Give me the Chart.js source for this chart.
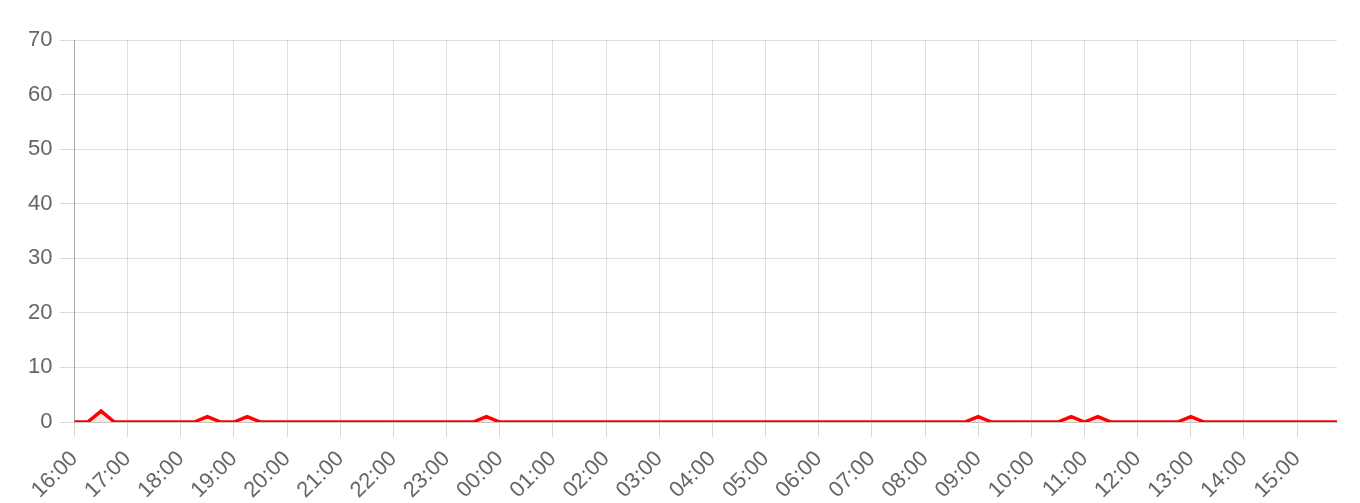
<!DOCTYPE html>
<html>
<head>
<meta charset="utf-8">
<script src="https://cdn.jsdelivr.net/npm/chart.js@4/dist/chart.umd.min.js"></script>
<style>
  html, body { margin: 0; padding: 0; background: #fff; }
  #wrap { position: relative; width: 1360px; height: 503px; }
</style>
</head>
<body>
<div id="wrap"><canvas id="chart"></canvas></div>
<script>
// ── Data (15-minute samples, 16:00 → 15:45) ─────

var times = [
  "16:00", "16:15", "16:30", "16:45", "17:00", "17:15", "17:30", "17:45",
  "18:00", "18:15", "18:30", "18:45", "19:00", "19:15", "19:30", "19:45",
  "20:00", "20:15", "20:30", "20:45", "21:00", "21:15", "21:30", "21:45",
  "22:00", "22:15", "22:30", "22:45", "23:00", "23:15", "23:30", "23:45",
  "00:00", "00:15", "00:30", "00:45", "01:00", "01:15", "01:30", "01:45",
  "02:00", "02:15", "02:30", "02:45", "03:00", "03:15", "03:30", "03:45",
  "04:00", "04:15", "04:30", "04:45", "05:00", "05:15", "05:30", "05:45",
  "06:00", "06:15", "06:30", "06:45", "07:00", "07:15", "07:30", "07:45",
  "08:00", "08:15", "08:30", "08:45", "09:00", "09:15", "09:30", "09:45",
  "10:00", "10:15", "10:30", "10:45", "11:00", "11:15", "11:30", "11:45",
  "12:00", "12:15", "12:30", "12:45", "13:00", "13:15", "13:30", "13:45",
  "14:00", "14:15", "14:30", "14:45", "15:00", "15:15", "15:30", "15:45"
];

var counts = [
  0, 0, 2, 0, 0, 0, 0, 0,
  0, 0, 1, 0, 0, 1, 0, 0,
  0, 0, 0, 0, 0, 0, 0, 0,
  0, 0, 0, 0, 0, 0, 0, 1,
  0, 0, 0, 0, 0, 0, 0, 0,
  0, 0, 0, 0, 0, 0, 0, 0,
  0, 0, 0, 0, 0, 0, 0, 0,
  0, 0, 0, 0, 0, 0, 0, 0,
  0, 0, 0, 0, 1, 0, 0, 0,
  0, 0, 0, 1, 0, 1, 0, 0,
  0, 0, 0, 0, 1, 0, 0, 0,
  0, 0, 0, 0, 0, 0, 0, 0
];

var yMin = 0, yMax = 70, yStep = 10;

// ── Chart ───────────────────────────────────────

Chart.defaults.font.family = "'Liberation Sans', Arial, Helvetica, sans-serif";
Chart.defaults.font.size = 22;
Chart.defaults.color = "#666";

var grid = { color: "rgba(0,0,0,0.12)", tickColor: "rgba(0,0,0,0.15)", tickLength: 15 };

new Chart(document.getElementById("chart"), {
  type: "line",
  data: {
    labels: times,
    datasets: [{
      data: counts,
      borderColor: "#ff0000",
      backgroundColor: "rgba(255,0,0,0.1)",
      borderWidth: 3.5,
      pointRadius: 0,
      tension: 0,
      fill: true
    }]
  },
  options: {
    responsive: true, maintainAspectRatio: false, animation: false,
    layout: { padding: { left: 21, right: 23, top: 40, bottom: 0 } },
    plugins: { legend: { display: false }, tooltip: { enabled: false } },
    scales: {
      x: {
        grid: grid,
        border: { color: "rgba(0,0,0,0.12)" },
        afterFit: function (scale) { scale.height = 81; },
        ticks: {
          autoSkip: false, maxRotation: 45, minRotation: 45, padding: 9,
          callback: function (v, i) {
            var t = times[i];
            return t.slice(3) === "00" ? t : null;
          }
        }
      },
      y: {
        min: yMin, max: yMax,
        grid: grid,
        border: { color: "rgba(0,0,0,0.25)" },
        ticks: { stepSize: yStep, padding: 7 }
      }
    }
  }
});
</script>
</body>
</html>
